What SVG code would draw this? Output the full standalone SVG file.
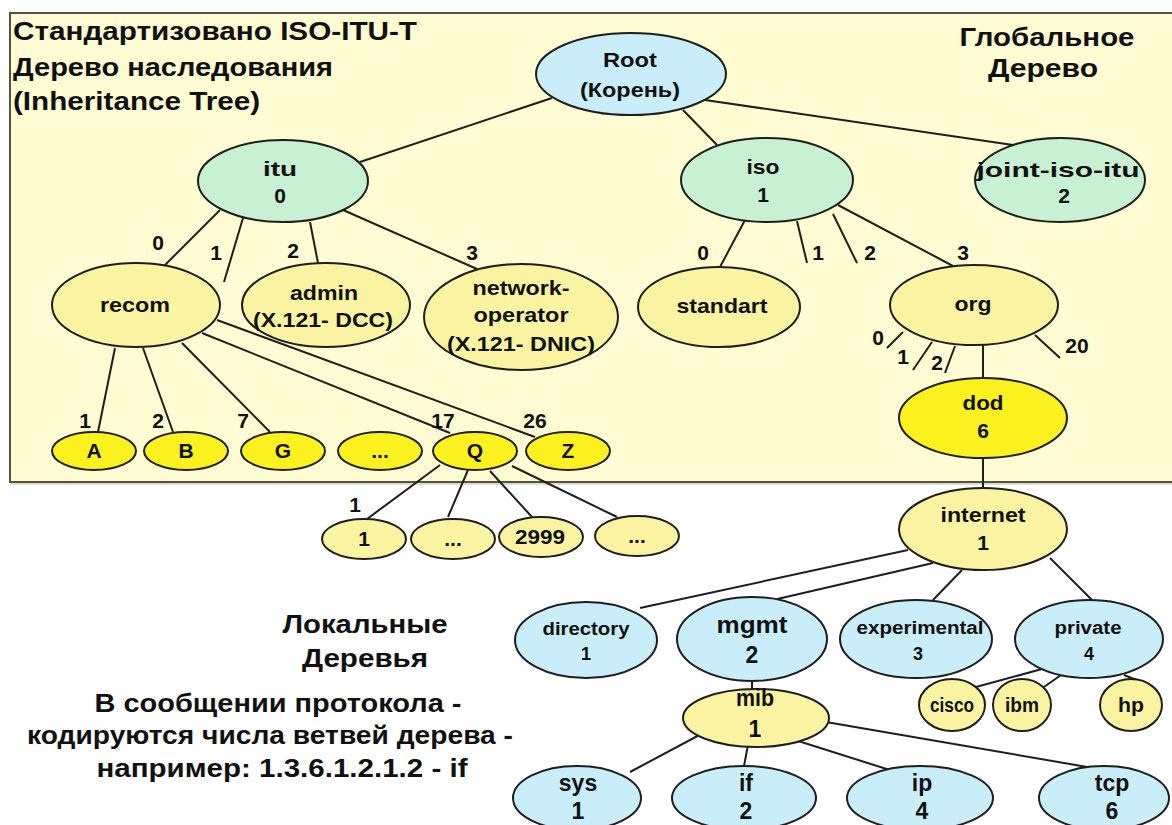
<svg xmlns="http://www.w3.org/2000/svg" width="1172" height="825" viewBox="0 0 1172 825">
<style>
text{font-family:"Liberation Sans",Arial,"DejaVu Sans",sans-serif;font-weight:bold;fill:#111;}
.m{text-anchor:middle;font-size:21px;}
.s{text-anchor:middle;font-size:18px;}
.l{text-anchor:middle;font-size:23px;}
.t{font-size:26px;}
.c{fill:#c9eefa;stroke:#1e1e1e;stroke-width:2;}
.g{fill:#c8f0d3;stroke:#1e1e1e;stroke-width:2;}
.y{fill:#faf4a2;stroke:#1e1e1e;stroke-width:2;}
.b{fill:#fbf11e;stroke:#1e1e1e;stroke-width:2;}
#connectors line{stroke:#1e1e1e;stroke-width:2;}
</style>
<rect x="0" y="0" width="1172" height="825" fill="#ffffff"/>
<rect x="10" y="15" width="1175" height="470" fill="#dcdcd0"/>
<rect x="10" y="13" width="1175" height="469" fill="#fffbd2" stroke="#55553f" stroke-width="2"/>
<g id="titles">
<text class="t" x="13" y="40" textLength="404" lengthAdjust="spacingAndGlyphs">Стандартизовано ISO-ITU-T</text>
<text class="t" x="13" y="76" textLength="320" lengthAdjust="spacingAndGlyphs">Дерево наследования</text>
<text class="t" x="13" y="110" textLength="247" lengthAdjust="spacingAndGlyphs">(Inheritance Tree)</text>
<text class="t" x="1047" y="46" text-anchor="middle" textLength="175" lengthAdjust="spacingAndGlyphs">Глобальное</text>
<text class="t" x="1043" y="77" text-anchor="middle" textLength="110" lengthAdjust="spacingAndGlyphs">Дерево</text>
<text class="t" x="365" y="633" text-anchor="middle" textLength="165" lengthAdjust="spacingAndGlyphs">Локальные</text>
<text class="t" x="365" y="667" text-anchor="middle" textLength="126" lengthAdjust="spacingAndGlyphs">Деревья</text>
<text class="t" x="278" y="712" text-anchor="middle" textLength="367" lengthAdjust="spacingAndGlyphs">В сообщении протокола -</text>
<text class="t" x="270" y="744" text-anchor="middle" textLength="486" lengthAdjust="spacingAndGlyphs">кодируются числа ветвей дерева -</text>
<text class="t" x="282" y="777" text-anchor="middle" textLength="371" lengthAdjust="spacingAndGlyphs">например: 1.3.6.1.2.1.2 - if</text>
</g>
<g id="connectors">
<line x1="552" y1="98" x2="360" y2="162"/>
<line x1="683" y1="110" x2="717" y2="145"/>
<line x1="705" y1="100" x2="1013" y2="145"/>
<line x1="220" y1="210" x2="163" y2="267"/>
<line x1="243" y1="218" x2="224" y2="282"/>
<line x1="310" y1="222" x2="318" y2="263"/>
<line x1="343" y1="210" x2="477" y2="269"/>
<line x1="745" y1="220" x2="720" y2="267"/>
<line x1="797" y1="221" x2="807" y2="263"/>
<line x1="833" y1="214" x2="857" y2="263"/>
<line x1="838" y1="205" x2="953" y2="266"/>
<line x1="903" y1="332" x2="887" y2="348"/>
<line x1="932" y1="342" x2="913" y2="370"/>
<line x1="955" y1="346" x2="945" y2="373"/>
<line x1="983" y1="345" x2="983" y2="378"/>
<line x1="1035" y1="335" x2="1060" y2="358"/>
<line x1="115" y1="348" x2="98" y2="432"/>
<line x1="143" y1="348" x2="173" y2="432"/>
<line x1="182" y1="343" x2="270" y2="432"/>
<line x1="202" y1="333" x2="450" y2="433"/>
<line x1="217" y1="320" x2="535" y2="437"/>
<line x1="440" y1="465" x2="367" y2="519"/>
<line x1="468" y1="470" x2="448" y2="517"/>
<line x1="490" y1="471" x2="532" y2="517"/>
<line x1="512" y1="466" x2="617" y2="517"/>
<line x1="983" y1="458" x2="983" y2="488"/>
<line x1="908" y1="550" x2="640" y2="608"/>
<line x1="933" y1="563" x2="773" y2="600"/>
<line x1="962" y1="570" x2="933" y2="600"/>
<line x1="1050" y1="558" x2="1092" y2="600"/>
<line x1="752" y1="681" x2="752" y2="692"/>
<line x1="705" y1="732" x2="630" y2="772"/>
<line x1="748" y1="745" x2="744" y2="766"/>
<line x1="795" y1="740" x2="893" y2="771"/>
<line x1="826" y1="722" x2="1093" y2="768"/>
<line x1="1042" y1="669" x2="976" y2="687"/>
<line x1="1061" y1="675" x2="1044" y2="687"/>
<line x1="1124" y1="675" x2="1139" y2="681"/>
</g>
<g id="edge-labels">
<text class="m" x="158" y="250">0</text>
<text class="m" x="216" y="260">1</text>
<text class="m" x="293" y="258">2</text>
<text class="m" x="472" y="260">3</text>
<text class="m" x="703" y="260">0</text>
<text class="m" x="818" y="260">1</text>
<text class="m" x="870" y="260">2</text>
<text class="m" x="963" y="260">3</text>
<text class="m" x="878" y="345">0</text>
<text class="m" x="903" y="364">1</text>
<text class="m" x="937" y="370">2</text>
<text class="m" x="1077" y="353">20</text>
<text class="m" x="85" y="428">1</text>
<text class="m" x="158" y="428">2</text>
<text class="m" x="243" y="428">7</text>
<text class="m" x="443" y="428">17</text>
<text class="m" x="535" y="428">26</text>
<text class="m" x="355" y="512">1</text>
</g>
<g id="root"><ellipse class="c" cx="631" cy="74" rx="95" ry="41"/><text class="m" x="630" y="67" textLength="54" lengthAdjust="spacingAndGlyphs">Root</text><text class="m" x="630" y="97" textLength="100" lengthAdjust="spacingAndGlyphs">(Корень)</text></g>
<g id="itu"><ellipse class="g" cx="283" cy="181" rx="85" ry="41"/><text class="m" x="280" y="176" textLength="34" lengthAdjust="spacingAndGlyphs">itu</text><text class="m" x="280" y="203">0</text></g>
<g id="iso"><ellipse class="g" cx="767" cy="180" rx="86" ry="42"/><text class="m" x="763" y="174" textLength="33" lengthAdjust="spacingAndGlyphs">iso</text><text class="m" x="763" y="202">1</text></g>
<g id="joint-iso-itu"><ellipse class="g" cx="1060" cy="180" rx="85" ry="42"/><text class="m" x="1058" y="177" textLength="163" lengthAdjust="spacingAndGlyphs">joint-iso-itu</text><text class="m" x="1064" y="203">2</text></g>
<g id="recom"><ellipse class="y" cx="136" cy="305" rx="84" ry="42"/><text class="m" x="135" y="312" textLength="70" lengthAdjust="spacingAndGlyphs">recom</text></g>
<g id="admin"><ellipse class="y" cx="326" cy="305" rx="84" ry="42"/><text class="m" x="324" y="300" textLength="68" lengthAdjust="spacingAndGlyphs">admin</text><text class="m" x="323" y="327" textLength="140" lengthAdjust="spacingAndGlyphs">(X.121- DCC)</text></g>
<g id="network-operator"><ellipse class="y" cx="521" cy="317" rx="97" ry="53"/><text class="m" x="521" y="295" textLength="97" lengthAdjust="spacingAndGlyphs">network-</text><text class="m" x="521" y="322" textLength="95" lengthAdjust="spacingAndGlyphs">operator</text><text class="m" x="521" y="351" textLength="148" lengthAdjust="spacingAndGlyphs">(X.121- DNIC)</text></g>
<g id="standart"><ellipse class="y" cx="719" cy="307" rx="81" ry="40"/><text class="m" x="722" y="313" textLength="91" lengthAdjust="spacingAndGlyphs">standart</text></g>
<g id="org"><ellipse class="y" cx="974" cy="305" rx="84" ry="40"/><text class="m" x="973" y="311" textLength="37" lengthAdjust="spacingAndGlyphs">org</text></g>
<g id="dod"><ellipse class="b" cx="983" cy="418" rx="84" ry="40"/><text class="m" x="983" y="410" textLength="41" lengthAdjust="spacingAndGlyphs">dod</text><text class="m" x="983" y="438">6</text></g>
<g id="A"><ellipse class="b" cx="94" cy="451" rx="42" ry="19"/><text class="m" x="94" y="458">A</text></g>
<g id="B"><ellipse class="b" cx="186" cy="451" rx="42" ry="19"/><text class="m" x="186" y="458">B</text></g>
<g id="G"><ellipse class="b" cx="283" cy="451" rx="42" ry="19"/><text class="m" x="283" y="458">G</text></g>
<g id="dots1"><ellipse class="b" cx="380" cy="451" rx="42" ry="19"/><text class="m" x="380" y="458">...</text></g>
<g id="Q"><ellipse class="b" cx="475" cy="451" rx="42" ry="19"/><text class="m" x="475" y="458">Q</text></g>
<g id="Z"><ellipse class="b" cx="568" cy="451" rx="42" ry="19"/><text class="m" x="568" y="458">Z</text></g>
<g id="q1"><ellipse class="y" cx="364" cy="539" rx="42" ry="20"/><text class="m" x="364" y="546">1</text></g>
<g id="qdots"><ellipse class="y" cx="453" cy="539" rx="42" ry="20"/><text class="m" x="453" y="546">...</text></g>
<g id="q2999"><ellipse class="y" cx="541" cy="537" rx="42" ry="20"/><text class="m" x="540" y="544" textLength="50" lengthAdjust="spacingAndGlyphs">2999</text></g>
<g id="qdots2"><ellipse class="y" cx="637" cy="536" rx="42" ry="20"/><text class="m" x="637" y="543">...</text></g>
<g id="internet"><ellipse class="y" cx="983" cy="529" rx="84" ry="41"/><text class="m" x="983" y="522" textLength="85" lengthAdjust="spacingAndGlyphs">internet</text><text class="m" x="983" y="550">1</text></g>
<g id="directory"><ellipse class="c" cx="586" cy="640" rx="71" ry="38"/><text class="s" x="586" y="635" textLength="87" lengthAdjust="spacingAndGlyphs">directory</text><text class="s" x="586" y="660">1</text></g>
<g id="mgmt"><ellipse class="c" cx="752" cy="639" rx="75" ry="42"/><text class="l" x="752" y="633" style="font-size:24px" textLength="71" lengthAdjust="spacingAndGlyphs">mgmt</text><text class="l" x="752" y="663">2</text></g>
<g id="experimental"><ellipse class="c" cx="916" cy="639" rx="76" ry="39"/><text class="s" x="920" y="634" textLength="127" lengthAdjust="spacingAndGlyphs">experimental</text><text class="s" x="918" y="660">3</text></g>
<g id="private"><ellipse class="c" cx="1089" cy="639" rx="74" ry="39"/><text class="s" x="1088" y="634" textLength="67" lengthAdjust="spacingAndGlyphs">private</text><text class="s" x="1089" y="660">4</text></g>
<g id="cisco"><ellipse class="y" cx="952" cy="705" rx="33" ry="26"/><text class="s" x="952" y="712" style="font-size:20px" textLength="44" lengthAdjust="spacingAndGlyphs">cisco</text></g>
<g id="ibm"><ellipse class="y" cx="1022" cy="705" rx="29" ry="26"/><text class="s" x="1022" y="712" style="font-size:20px" textLength="34" lengthAdjust="spacingAndGlyphs">ibm</text></g>
<g id="hp"><ellipse class="y" cx="1131" cy="705" rx="31" ry="26"/><text class="s" x="1131" y="712" style="font-size:20px" textLength="26" lengthAdjust="spacingAndGlyphs">hp</text></g>
<g id="mib"><ellipse class="y" cx="756" cy="718" rx="73" ry="29"/><text class="l" x="755" y="706" textLength="38" lengthAdjust="spacingAndGlyphs">mib</text><text class="l" x="755" y="737">1</text></g>
<g id="sys"><ellipse class="c" cx="577" cy="798" rx="64" ry="32"/><text class="l" x="578" y="791">sys</text><text class="l" x="578" y="819">1</text></g>
<g id="if"><ellipse class="c" cx="744" cy="798" rx="72" ry="32"/><text class="l" x="746" y="791">if</text><text class="l" x="746" y="819">2</text></g>
<g id="ip"><ellipse class="c" cx="920" cy="798" rx="73" ry="32"/><text class="l" x="922" y="791">ip</text><text class="l" x="922" y="819">4</text></g>
<g id="tcp"><ellipse class="c" cx="1104" cy="798" rx="65" ry="32"/><text class="l" x="1112" y="791">tcp</text><text class="l" x="1112" y="819">6</text></g>
</svg>
